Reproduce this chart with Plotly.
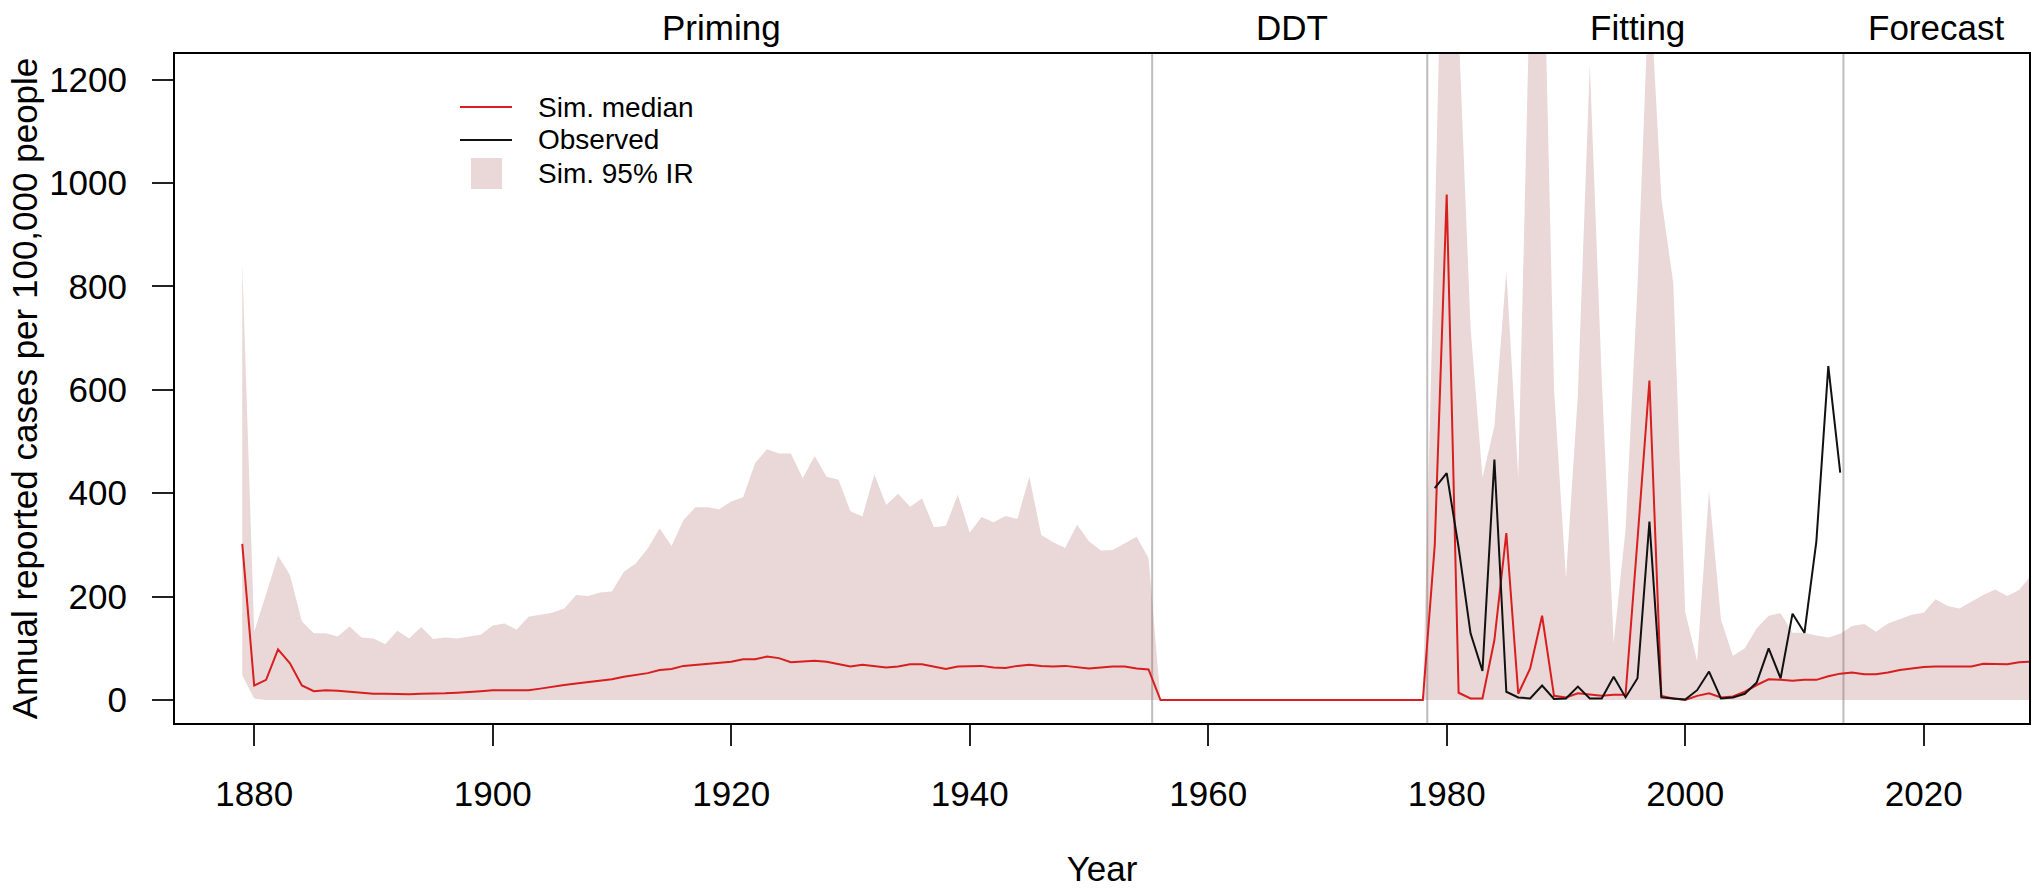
import plotly.graph_objects as go

# ---------------- data ----------------
sim_years = list(range(1879, 2030))

sim_median = [
    302, 28, 39, 98, 71, 28, 17, 19, 18, 16,            # 1879-1888
    14, 12, 12, 11, 11, 12, 12, 13, 14, 15,             # 1889-1898
    17, 19, 19, 19, 19, 22, 26, 29, 32, 35,             # 1899-1908
    38, 40, 45, 48, 52, 58, 60, 66, 68, 70,             # 1909-1918
    72, 74, 79, 79, 84, 81, 73, 74, 76, 74,             # 1919-1928
    69, 65, 68, 66, 63, 65, 69, 69, 65, 60,             # 1929-1938
    65, 65, 66, 63, 62, 66, 68, 66, 65, 66,             # 1939-1948
    63, 61, 63, 65, 65, 61, 59, 0, 0, 0,                # 1949-1958
    0, 0, 0, 0, 0, 0, 0, 0, 0, 0,                       # 1959-1968
    0, 0, 0, 0, 0, 0, 0, 0, 0, 0,                       # 1969-1978
    300, 978, 14, 3, 3, 116, 323, 12, 61, 163,          # 1979-1988
    8, 5, 13, 10, 8, 10, 10, 310, 618, 8,               # 1989-1998
    3, 0, 8, 13, 5, 7, 16, 29, 40, 39,                  # 1999-2008
    37, 39, 39, 46, 51, 53, 50, 50, 53, 58,             # 2009-2018
    61, 64, 65, 65, 66, 65, 70, 70, 69, 73,             # 2019-2028
    74,                                                 # 2029
]

sim_upper = [
    845, 132, 205, 279, 242, 152, 129, 129, 123, 142,   # 1879-1888
    121, 119, 108, 134, 119, 141, 118, 121, 119, 122,   # 1889-1898
    126, 144, 148, 136, 161, 165, 169, 177, 203, 201,   # 1899-1908
    208, 210, 248, 264, 293, 332, 298, 348, 373, 373,   # 1909-1918
    369, 384, 392, 458, 485, 477, 477, 429, 472, 432,   # 1919-1928
    426, 365, 355, 436, 377, 399, 374, 390, 334, 337,   # 1929-1938
    397, 324, 354, 344, 356, 350, 432, 319, 305, 294,   # 1939-1948
    339, 307, 289, 290, 303, 316, 274, 0, 0, 0,         # 1949-1958
    0, 0, 0, 0, 0, 0, 0, 0, 0, 0,                       # 1959-1968
    0, 0, 0, 0, 0, 0, 0, 0, 0, 0,                       # 1969-1978
    910, 1900, 1300, 720, 430, 530, 830, 430, 1400, 1600,  # 1979-1988
    600, 235, 590, 1230, 620, 110, 330, 800, 1400, 970,    # 1989-1998
    806, 170, 75, 405, 155, 85, 100, 139, 163, 168,     # 1999-2008
    130, 130, 125, 121, 128, 143, 147, 132, 148, 156,   # 2009-2018
    165, 169, 195, 182, 177, 190, 203, 214, 201, 213,   # 2019-2028
    240,                                                # 2029
]

sim_lower = [48, 3] + [0] * (len(sim_years) - 2)

obs_years = list(range(1979, 2014))
observed = [
    410, 439, 295, 129, 56, 465, 16, 5, 3, 28,          # 1979-1988
    2, 3, 26, 3, 3, 45, 5, 42, 345, 5,                  # 1989-1998
    3, 1, 19, 55, 3, 5, 12, 34, 100, 42,                # 1999-2008
    167, 130, 307, 646, 440,                            # 2009-2013
]

phase_bounds = [1955.3, 1978.37, 2013.27]
phase_names = ["Priming", "DDT", "Fitting", "Forecast"]
phase_centers = [1919.2, 1967.0, 1996.0, 2021.0]

x_ticks = [1880, 1900, 1920, 1940, 1960, 1980, 2000, 2020]
y_ticks = [0, 200, 400, 600, 800, 1000, 1200]

# ---------------- style ----------------
FONT = "Liberation Sans, Arial, Helvetica, sans-serif"
RED = "#D81E1E"
BLACK = "#111111"
FILL = "rgba(170,95,95,0.25)"

fig = go.Figure()

fig.add_trace(go.Scatter(x=sim_years, y=sim_lower, mode="lines",
                         line=dict(width=0, color=FILL), showlegend=False,
                         hoverinfo="skip"))
fig.add_trace(go.Scatter(x=sim_years, y=sim_upper, mode="lines",
                         line=dict(width=0, color=FILL), fill="tonexty",
                         fillcolor=FILL, name="Sim. 95% IR", showlegend=False))
fig.add_trace(go.Scatter(x=sim_years, y=sim_median, mode="lines",
                         line=dict(color=RED, width=2), name="Sim. median",
                         showlegend=False))
fig.add_trace(go.Scatter(x=obs_years, y=observed, mode="lines",
                         line=dict(color=BLACK, width=2), name="Observed",
                         showlegend=False))

shapes = []
for b in phase_bounds:
    shapes.append(dict(type="line", xref="x", yref="paper", x0=b, x1=b,
                       y0=0, y1=1, line=dict(color="#BDBDBD", width=2),
                       layer="below"))

# custom legend (matches R legend layout)
W, H, L, B = 1854, 669, 175, 168
def px_x(p):
    return (p - L) / W
def px_y(p):
    return (891 - B - p) / H

shapes.append(dict(type="line", xref="paper", yref="paper",
                   x0=px_x(460), x1=px_x(512), y0=px_y(107), y1=px_y(107),
                   line=dict(color=RED, width=2)))
shapes.append(dict(type="line", xref="paper", yref="paper",
                   x0=px_x(460), x1=px_x(512), y0=px_y(140), y1=px_y(140),
                   line=dict(color=BLACK, width=2)))
shapes.append(dict(type="rect", xref="paper", yref="paper",
                   x0=px_x(471), x1=px_x(502), y0=px_y(189), y1=px_y(158),
                   fillcolor=FILL, line=dict(width=0)))

annotations = []
for txt, py in zip(["Sim. median", "Observed", "Sim. 95% IR"], [107, 140, 173]):
    annotations.append(dict(text=txt, xref="paper", yref="paper",
                            x=px_x(536), y=px_y(py), xanchor="left",
                            yanchor="middle", showarrow=False,
                            font=dict(family=FONT, size=28, color="black")))

for name, cx in zip(phase_names, phase_centers):
    annotations.append(dict(text=name, xref="x", yref="paper", x=cx,
                            y=px_y(28), xanchor="center", yanchor="middle",
                            showarrow=False,
                            font=dict(family=FONT, size=35, color="black")))

fig.update_layout(
    width=2037, height=891,
    margin=dict(l=L, r=8, t=891 - B - H, b=B, autoexpand=False),
    paper_bgcolor="white", plot_bgcolor="white",
    font=dict(family=FONT, size=35, color="black"),
    shapes=shapes, annotations=annotations,
    showlegend=False,
    xaxis=dict(range=[1873.36, 2028.83], tickvals=x_ticks,
               ticktext=[str(t) for t in x_ticks],
               ticks="outside", ticklen=21, tickwidth=2, tickcolor="#222",
               showline=True, linecolor="black", linewidth=2, mirror=True,
               showgrid=False, zeroline=False, ticklabelstandoff=18,
               title=dict(text="Year", standoff=44,
                          font=dict(family=FONT, size=35))),
    yaxis=dict(range=[-44.5, 1249.7], tickvals=y_ticks,
               ticktext=[str(t) for t in y_ticks],
               ticks="outside", ticklen=21, tickwidth=2, tickcolor="#222",
               showline=True, linecolor="black", linewidth=2, mirror=True,
               showgrid=False, zeroline=False, ticklabelstandoff=18,
               title=dict(text="Annual reported cases per 100,000 people",
                          standoff=1, font=dict(family=FONT, size=35))),
)

fig.write_html("out.html")
